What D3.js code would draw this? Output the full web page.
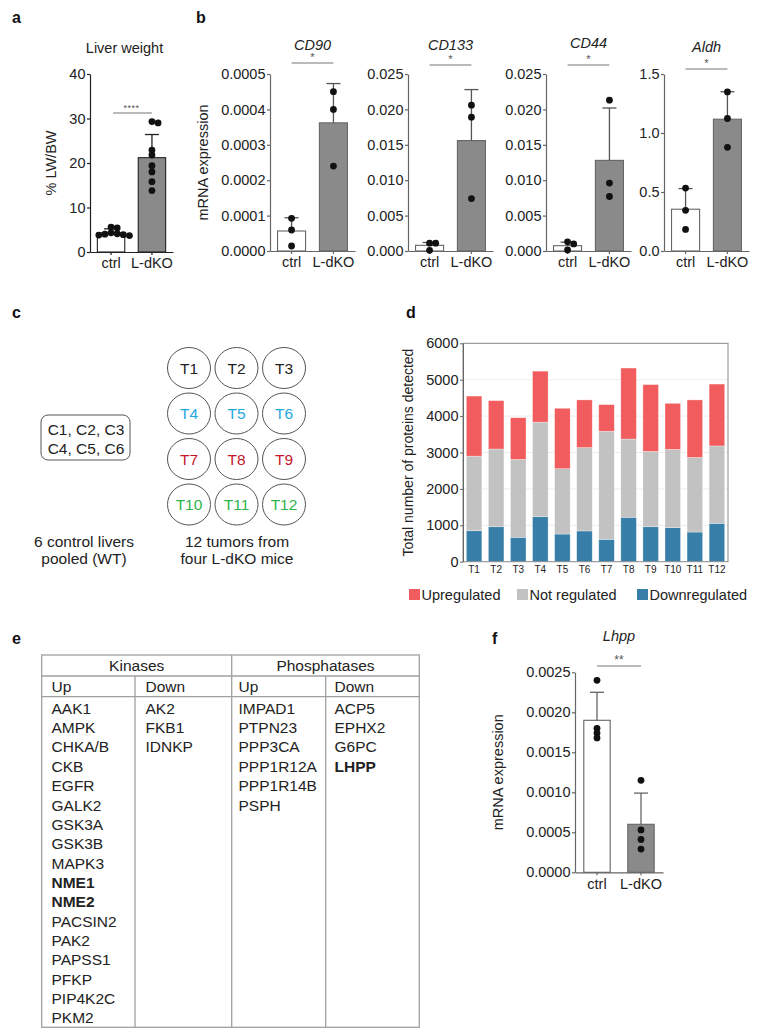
<!DOCTYPE html>
<html><head><meta charset="utf-8">
<script src="https://cdn.jsdelivr.net/npm/d3@7"></script>
<style>
body{margin:0;background:#fff}
svg{display:block}
text{font-family:"Liberation Sans",Arial,Helvetica,sans-serif;fill:#222}
</style>
</head><body>
<script>
// ---------------- DATA ----------------
const groups = ["ctrl", "L-dKO"];

// panel a
const aTicks = [0, 10, 20, 30, 40];
const aMeans = [4.3, 21.2];
const aSDs = [0.9, 5.2];
const aCtrlPts = [5.6, 5.4, 4.3, 4.1, 4.0, 3.9, 3.8, 3.7];
const aKOPts = [29.3, 29.0, 22.9, 21.8, 19.4, 18.0, 15.8, 13.8];

// panel b
const bGenes = ["CD90", "CD133", "CD44", "Aldh"];
const bMax = [0.0005, 0.025, 0.025, 1.5];
const bTicks = [
  [0, 0.0001, 0.0002, 0.0003, 0.0004, 0.0005],
  [0, 0.005, 0.010, 0.015, 0.020, 0.025],
  [0, 0.005, 0.010, 0.015, 0.020, 0.025],
  [0, 0.5, 1.0, 1.5]
];
const bTickFmt = [".4f", ".3f", ".3f", ".1f"];
const bMeans = [[0.0000565, 0.000362], [0.0008, 0.0156], [0.00075, 0.0128], [0.354, 1.117]];
const bSDs = [[0.0000375, 0.000111], [0.0004, 0.0072], [0.0005, 0.0074], [0.175, 0.233]];
const bCtrlPts = [[0.0000924, 0.0000593, 0.0000141], [0.0011, 0.0011, 0.0001], [0.0013, 0.0010, 0.00014], [0.533, 0.345, 0.183]];
const bKOPts = [[0.00045, 0.0004, 0.00024], [0.0206, 0.0189, 0.0074], [0.0213, 0.0096, 0.0077], [1.348, 1.123, 0.879]];

// panel c
const tumorRows = [["T1", "T2", "T3"], ["T4", "T5", "T6"], ["T7", "T8", "T9"], ["T10", "T11", "T12"]];
const tumorRowColors = ["#222222", "#1fa8e0", "#c4172c", "#2fb44b"];
const controlLines = ["C1, C2, C3", "C4, C5, C6"];
const controlCaption = ["6 control livers", "pooled (WT)"];
const tumorCaption = ["12 tumors from", "four L-dKO mice"];

// panel d
const dSamples = ["T1","T2","T3","T4","T5","T6","T7","T8","T9","T10","T11","T12"];
const dDown = [850, 960, 670, 1235, 760, 845, 615, 1220, 960, 935, 815, 1055];
const dNot  = [2050, 2135, 2140, 2600, 1795, 2290, 2970, 2150, 2070, 2150, 2050, 2125];
const dUp   = [1650, 1330, 1145, 1400, 1660, 1310, 730, 1950, 1835, 1265, 1580, 1700];
const dTicks = [0, 1000, 2000, 3000, 4000, 5000, 6000];
const dSeries = ["Downregulated", "Not regulated", "Upregulated"];
const dLegendOrder = ["Upregulated", "Not regulated", "Downregulated"];
const dColors = {"Upregulated": "#f15d5e", "Not regulated": "#c2c2c2", "Downregulated": "#377fa8"};

// panel e
const kinUp = ["AAK1","AMPK","CHKA/B","CKB","EGFR","GALK2","GSK3A","GSK3B","MAPK3","NME1","NME2","PACSIN2","PAK2","PAPSS1","PFKP","PIP4K2C","PKM2"];
const kinDown = ["AK2","FKB1","IDNKP"];
const phosUp = ["IMPAD1","PTPN23","PPP3CA","PPP1R12A","PPP1R14B","PSPH"];
const phosDown = ["ACP5","EPHX2","G6PC","LHPP"];
const boldGenes = ["NME1","NME2","LHPP"];

// panel f
const fTicks = [0, 0.0005, 0.0010, 0.0015, 0.0020, 0.0025];
const fMeans = [0.0019, 0.0006];
const fSDs = [0.00035, 0.00039];
const fCtrlPts = [0.0024, 0.0018, 0.00174, 0.00168];
const fKOPts = [0.00115, 0.00053, 0.00041, 0.00029];

// ---------------- DRAW ----------------
const W = 761, H = 1035;
const svg = d3.select("body").append("svg").attr("width", W).attr("height", H);
const FS = 14.5;

function panelLabel(t, x, y) {
  svg.append("text").attr("x", x).attr("y", y).text(t)
    .style("font-weight", "bold").style("font-size", "16px").style("fill", "#111");
}

function swarm(vals, y, cx, r) {
  const placed = [];
  const order = vals.map((v, i) => i).sort((a, b) => vals[b] - vals[a]);
  const offs = [0];
  for (let j = 1; j < 40; j++) offs.push(j * r * 0.6, -j * r * 0.6);
  order.forEach(i => {
    const py = y(vals[i]);
    let px = cx;
    for (const o of offs) {
      const tx = cx + o;
      if (placed.every(p => Math.hypot(p.x - tx, p.y - py) >= 2 * r * 0.68)) { px = tx; break; }
    }
    placed.push({x: px, y: py});
  });
  return placed;
}

function barDot(o) {
  const g = svg.append("g");
  const x = d3.scaleBand().domain(groups).range([o.x0, o.x1]).paddingInner(o.pi || 0.33).paddingOuter(o.po || 0.18);
  const y = d3.scaleLinear().domain([0, o.max]).range([o.y0, o.y1]);
  const ax = o.axisColor;
  const means = o.means, sds = o.sds;
  g.selectAll("rect.bar").data(groups).join("rect")
    .attr("x", d => x(d)).attr("width", x.bandwidth())
    .attr("y", (d, i) => y(means[i])).attr("height", (d, i) => o.y0 - y(means[i]))
    .attr("fill", (d, i) => i === 0 ? "#fff" : "#8a8a8a")
    .attr("stroke", ax).attr("stroke-width", 1.1);
  groups.forEach((gname, i) => {
    const cx = x(gname) + x.bandwidth() / 2;
    const yt = y(means[i] + sds[i]);
    g.append("line").attr("x1", cx).attr("x2", cx).attr("y1", y(means[i])).attr("y2", yt)
      .attr("stroke", o.errColor).attr("stroke-width", 1.3);
    g.append("line").attr("x1", cx - 7).attr("x2", cx + 7).attr("y1", yt).attr("y2", yt)
      .attr("stroke", o.errColor).attr("stroke-width", 1.3);
  });
  const ya = g.append("g").attr("transform", `translate(${o.x0},0)`)
    .call(d3.axisLeft(y).tickValues(o.ticks).tickFormat(o.fmt).tickSize(3).tickPadding(1.5).tickSizeOuter(0));
  ya.selectAll("text").style("font-size", FS + "px").style("fill", "#222");
  ya.selectAll("line,path").attr("stroke", ax).attr("stroke-width", 1.2);
  const xa = g.append("g").attr("transform", `translate(0,${o.y0})`)
    .call(d3.axisBottom(x).tickSize(3).tickPadding(3).tickSizeOuter(0));
  xa.selectAll("text").style("font-size", FS + "px").style("fill", "#222");
  xa.selectAll("line,path").attr("stroke", ax).attr("stroke-width", 1.2);
  [o.ctrlPts, o.koPts].forEach((pts, i) => {
    const cx = x(groups[i]) + x.bandwidth() / 2;
    const pl = swarm(pts, y, cx, 3.4);
    g.selectAll(null).data(pl).join("circle")
      .attr("cx", d => d.x).attr("cy", d => d.y).attr("r", 3.4).attr("fill", "#111");
  });
  const c0 = x(groups[0]) + x.bandwidth() / 2, c1 = x(groups[1]) + x.bandwidth() / 2;
  g.append("line").attr("x1", c0 + (o.sigDx0 || 0)).attr("x2", c1 + (o.sigDx1 || 0)).attr("y1", o.sigY).attr("y2", o.sigY)
    .attr("stroke", "#777").attr("stroke-width", 1.1);
  g.append("text").attr("x", (c0 + c1) / 2).attr("y", o.sigY - 2).attr("text-anchor", "middle")
    .style("font-size", o.sigFS + "px").style("fill", "#555").style("letter-spacing", o.sigLS || "0px").text(o.sig);
  if (o.title) {
    g.append("text").attr("x", (c0 + c1) / 2 + (o.titleDx || 0)).attr("y", o.titleY).attr("text-anchor", "middle")
      .style("font-size", FS + "px").style("font-style", o.italic ? "italic" : "normal").text(o.title);
  }
  if (o.ylabel) {
    g.append("text").attr("transform", `translate(${o.ylabelX},${(o.y0 + o.y1) / 2}) rotate(-90)`)
      .attr("text-anchor", "middle").style("font-size", FS + "px").text(o.ylabel);
  }
  return g;
}

// ---- panel a ----
panelLabel("a", 12, 23);
barDot({x0: 90, x1: 173, y0: 252, y1: 74, max: 40, ticks: aTicks, fmt: d3.format("d"),
  means: aMeans, sds: aSDs, ctrlPts: aCtrlPts, koPts: aKOPts,
  axisColor: "#222", errColor: "#222", sigY: 113, sig: "****", sigFS: 9, sigDx0: 2, sigLS: "0.5px",
  title: "Liver weight", titleY: 53, titleDx: -7, ylabel: "% LW/BW", ylabelX: 56});

// ---- panel b ----
panelLabel("b", 196, 23);
const bX0 = [270, 408, 546, 664];
const bSigY = [63, 65, 65, 69];
const bTitleY = [50, 50, 48, 52];
bGenes.forEach((gname, k) => {
  barDot({x0: bX0[k], x1: bX0[k] + 85, y0: 251, y1: 74, max: bMax[k], ticks: bTicks[k], fmt: d3.format(bTickFmt[k]),
    means: bMeans[k], sds: bSDs[k], ctrlPts: bCtrlPts[k], koPts: bKOPts[k],
    axisColor: "#666", errColor: "#555", sigY: bSigY[k], sig: "*", sigFS: 11,
    title: gname, titleY: bTitleY[k], italic: true,
    ylabel: k === 0 ? "mRNA expression" : null, ylabelX: 208});
});

// ---- panel c ----
panelLabel("c", 12, 318);
const cx = d3.scalePoint().domain([0, 1, 2]).range([189, 284]);
const cy = d3.scalePoint().domain([0, 1, 2, 3]).range([368, 504.5]);
tumorRows.forEach((row, ri) => {
  row.forEach((t, ci) => {
    svg.append("ellipse").attr("cx", cx(ci)).attr("cy", cy(ri)).attr("rx", 21.5).attr("ry", 20.5)
      .attr("fill", "none").attr("stroke", "#555").attr("stroke-width", 1);
    svg.append("text").attr("x", cx(ci)).attr("y", cy(ri) + 5.5).attr("text-anchor", "middle")
      .style("font-size", "15.5px").style("fill", tumorRowColors[ri]).text(t);
  });
});
svg.append("rect").attr("x", 41).attr("y", 415).attr("width", 89).attr("height", 45).attr("rx", 7)
  .attr("fill", "none").attr("stroke", "#555").attr("stroke-width", 1);
controlLines.forEach((t, i) => svg.append("text").attr("x", 86).attr("y", 434.5 + i * 19).attr("text-anchor", "middle")
  .style("font-size", "15.5px").text(t));
controlCaption.forEach((t, i) => svg.append("text").attr("x", 84).attr("y", 547 + i * 17).attr("text-anchor", "middle")
  .style("font-size", "15.5px").text(t));
tumorCaption.forEach((t, i) => svg.append("text").attr("x", 237).attr("y", 547 + i * 17).attr("text-anchor", "middle")
  .style("font-size", "15.5px").text(t));

// ---- panel d ----
panelLabel("d", 406, 318);
{
  const x0 = 463, x1 = 728, y0 = 561.7, y1 = 343.3;
  const x = d3.scaleBand().domain(dSamples).range([x0, x1]).paddingInner(0.296).paddingOuter(0.15);
  const y = d3.scaleLinear().domain([0, 6000]).range([y0, y1]);
  const g = svg.append("g");
  g.selectAll("line.grid").data(dTicks.slice(1, -1)).join("line")
    .attr("x1", x0).attr("x2", x1).attr("y1", d => y(d)).attr("y2", d => y(d))
    .attr("stroke", "#ececec").attr("stroke-width", 1);
  const table = dSamples.map((s, i) => ({s, "Downregulated": dDown[i], "Not regulated": dNot[i], "Upregulated": dUp[i]}));
  const stack = d3.stack().keys(dSeries)(table);
  g.selectAll("g.ser").data(stack).join("g").attr("fill", d => dColors[d.key])
    .selectAll("rect").data(d => d).join("rect")
    .attr("x", d => x(d.data.s)).attr("width", x.bandwidth())
    .attr("y", d => y(d[1])).attr("height", d => y(d[0]) - y(d[1]))
    .attr("stroke", "rgba(255,255,255,0.5)").attr("stroke-width", 0.6);
  g.append("rect").attr("x", x0).attr("y", y1).attr("width", x1 - x0).attr("height", y0 - y1)
    .attr("fill", "none").attr("stroke", "#888").attr("stroke-width", 1);
  const ya = g.append("g").attr("transform", `translate(${x0},0)`)
    .call(d3.axisLeft(y).tickValues(dTicks).tickFormat(d3.format("d")).tickSize(3).tickPadding(1.5).tickSizeOuter(0));
  ya.selectAll("text").style("font-size", FS + "px").style("fill", "#222");
  ya.selectAll("line,path").attr("stroke", "#666");
  const xa = g.append("g").attr("transform", `translate(0,${y0})`)
    .call(d3.axisBottom(x).tickSize(0).tickPadding(4));
  xa.select("path").remove();
  xa.selectAll("text").style("font-size", "10px").style("fill", "#222");
  g.append("text").attr("transform", `translate(413,${(y0 + y1) / 2}) rotate(-90)`)
    .attr("text-anchor", "middle").style("font-size", "14px").text("Total number of proteins detected");
  const lx = [409, 517, 637];
  dLegendOrder.forEach((k, i) => {
    g.append("rect").attr("x", lx[i]).attr("y", 589).attr("width", 11).attr("height", 11).attr("fill", dColors[k]);
    g.append("text").attr("x", lx[i] + 12.5).attr("y", 599.5).style("font-size", FS + "px").text(k);
  });
}

// ---- panel e ----
panelLabel("e", 12, 644);
{
  const g = svg.append("g");
  const L = 41.7, R = 419.3, T = 655, hy1 = 676, hy2 = 696.7, B = 1027.3;
  const cols = [L, 135, 231.7, 325.7, R];
  const st = "#a0a0a0";
  const line = (x1, y1, x2, y2) => g.append("line").attr("x1", x1).attr("y1", y1).attr("x2", x2).attr("y2", y2)
    .attr("stroke", st).attr("stroke-width", 1.3);
  g.append("rect").attr("x", L).attr("y", T).attr("width", R - L).attr("height", B - T)
    .attr("fill", "none").attr("stroke", st).attr("stroke-width", 1.3);
  line(L, hy1, R, hy1);
  line(L, hy2, R, hy2);
  line(cols[2], T, cols[2], B);
  line(cols[1], hy1, cols[1], B);
  line(cols[3], hy1, cols[3], B);
  const fs = "15.5px";
  g.append("text").attr("x", (cols[0] + cols[2]) / 2).attr("y", 671).attr("text-anchor", "middle").style("font-size", fs).text("Kinases");
  g.append("text").attr("x", (cols[2] + cols[4]) / 2).attr("y", 671).attr("text-anchor", "middle").style("font-size", fs).text("Phosphatases");
  const subs = ["Up", "Down", "Up", "Down"];
  const lists = [kinUp, kinDown, phosUp, phosDown];
  const tx = [51.5, 145.5, 238.5, 334.5];
  subs.forEach((s, i) => g.append("text").attr("x", tx[i]).attr("y", 691.5).style("font-size", fs).text(s));
  lists.forEach((lst, i) => {
    lst.forEach((name, j) => {
      g.append("text").attr("x", tx[i]).attr("y", 713.8 + j * 19.34).style("font-size", fs)
        .style("font-weight", boldGenes.includes(name) ? "bold" : "normal").text(name);
    });
  });
}

// ---- panel f ----
panelLabel("f", 492, 644);
barDot({x0: 575, x1: 663, y0: 872.3, y1: 672.3, max: 0.0025, ticks: fTicks, fmt: d3.format(".4f"),
  means: fMeans, sds: fSDs, ctrlPts: fCtrlPts, koPts: fKOPts, pi: 0.4, po: 0.2,
  axisColor: "#666", errColor: "#666", sigY: 666, sig: "**", sigFS: 12,
  title: "Lhpp", titleY: 641, italic: true, ylabel: "mRNA expression", ylabelX: 503});
</script>
</body></html>
